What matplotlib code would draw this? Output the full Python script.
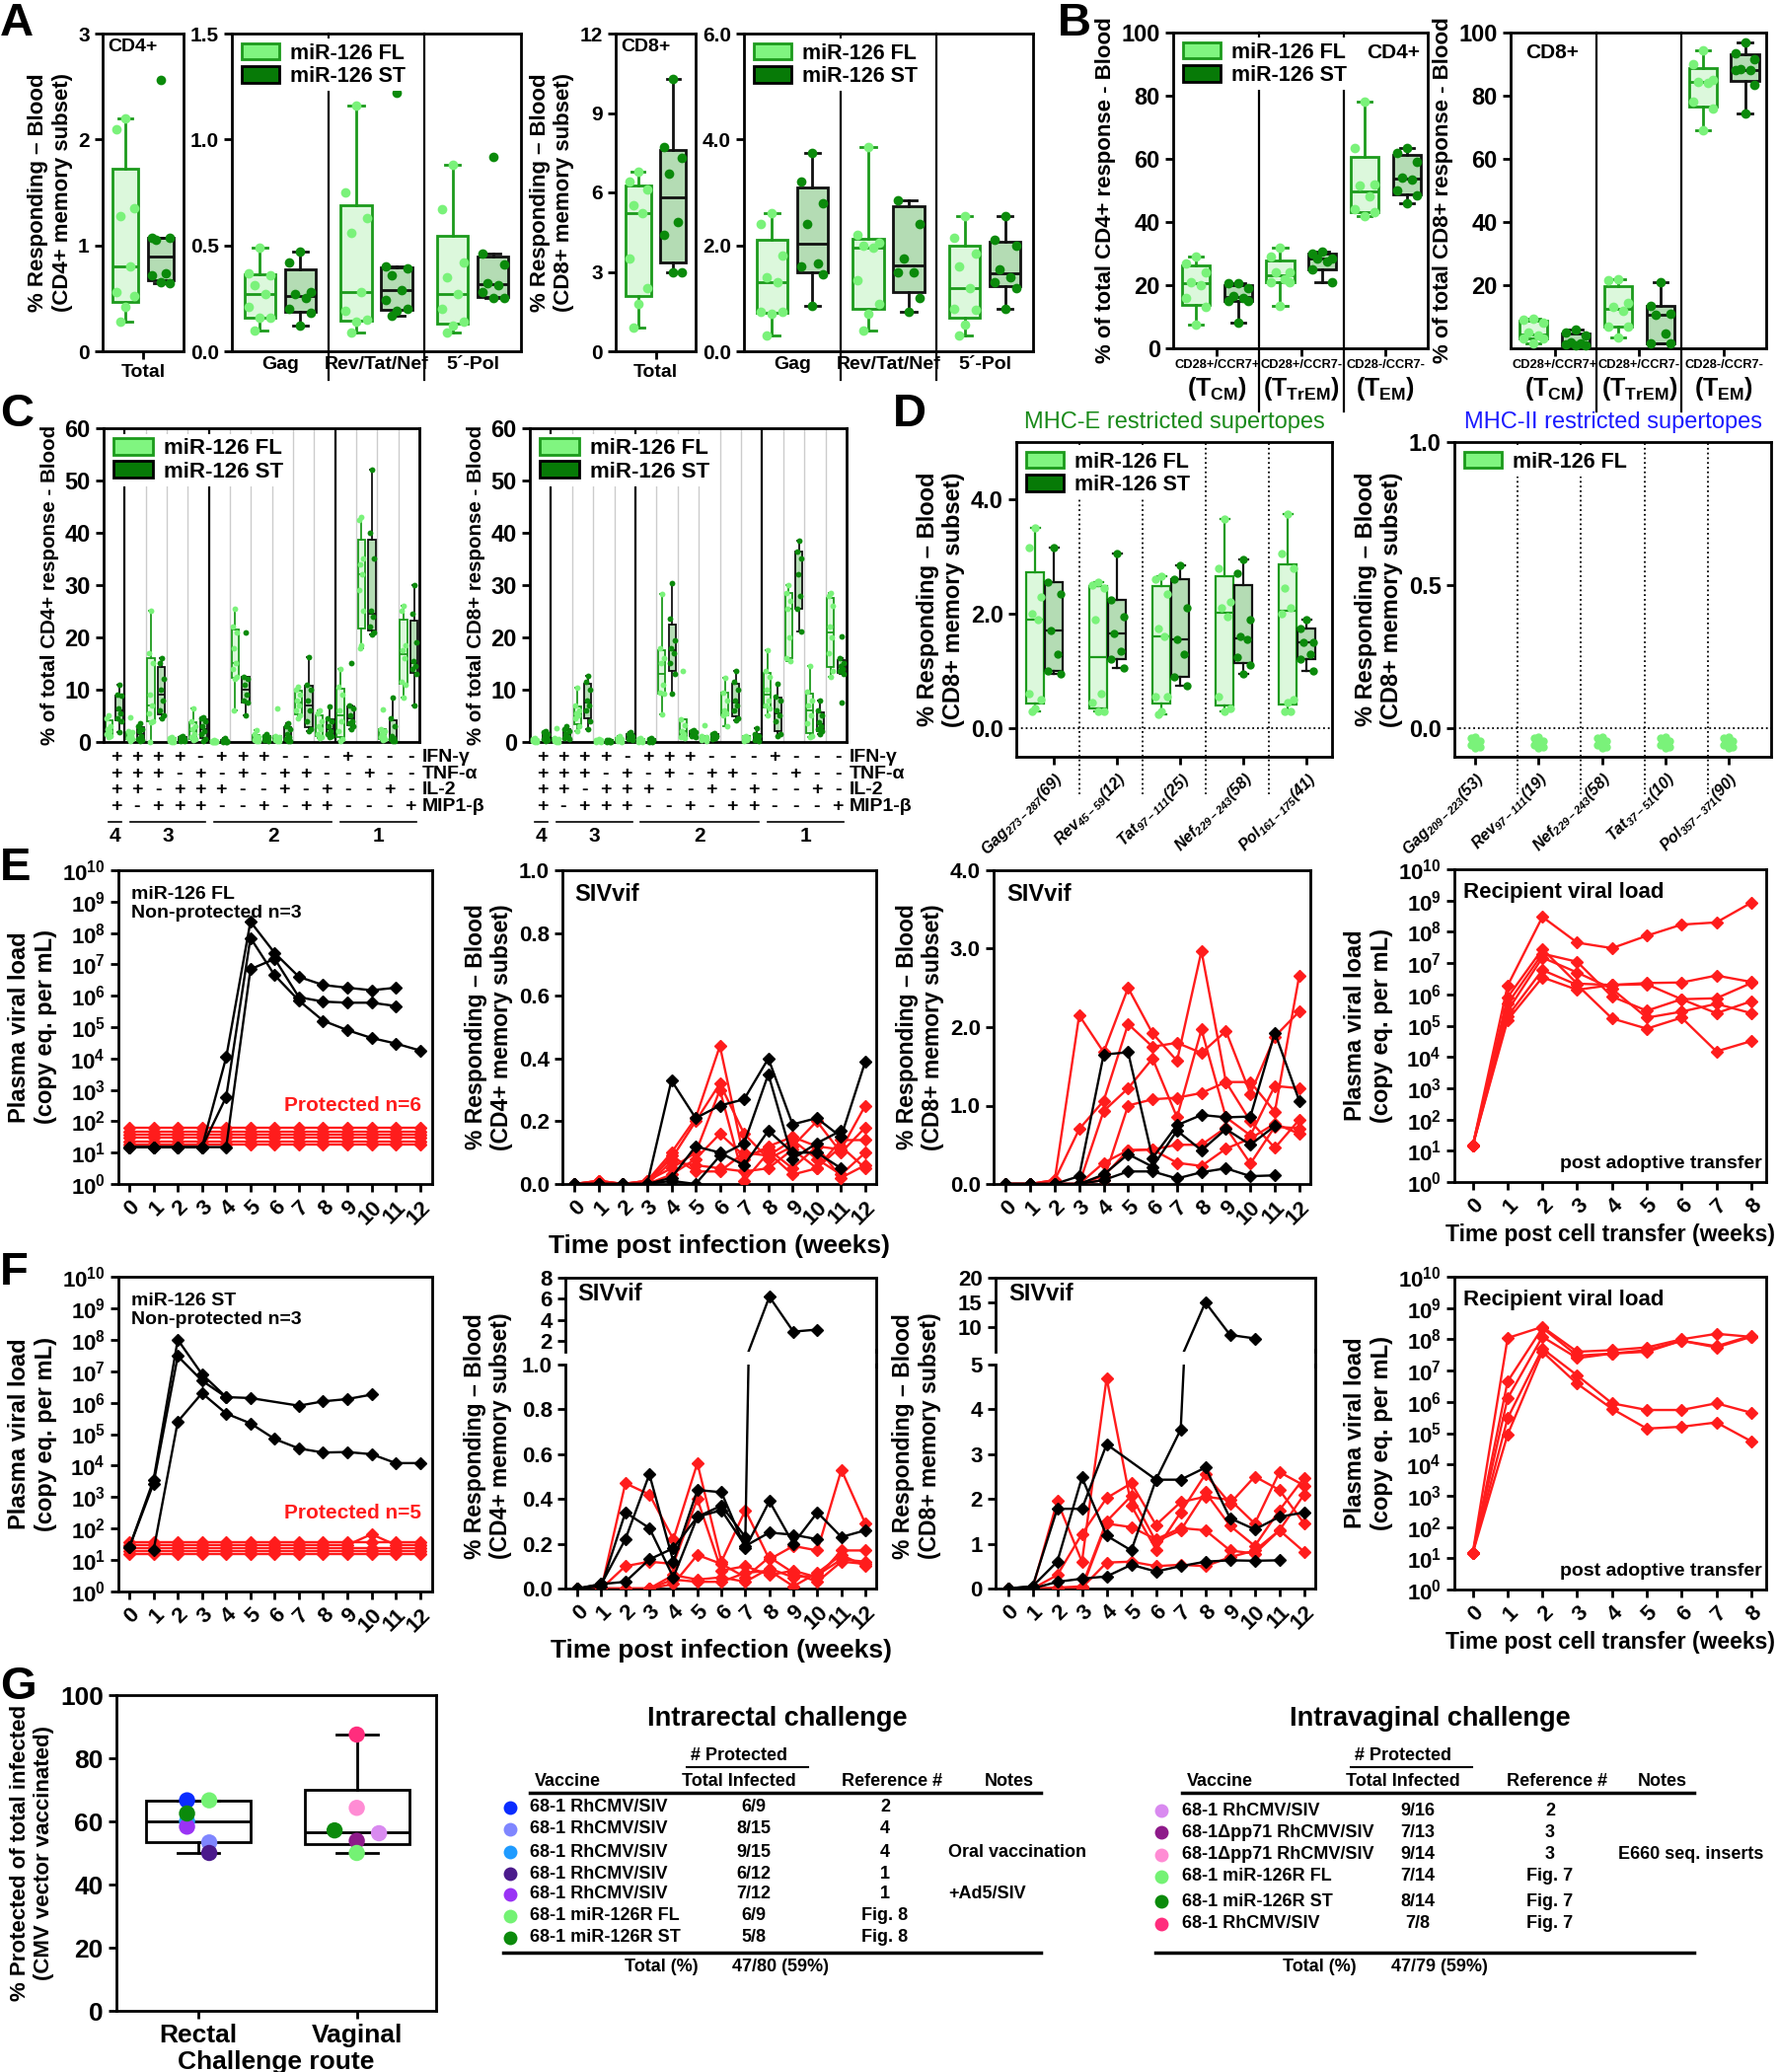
import numpy as np
import matplotlib
matplotlib.use('Agg')
import matplotlib.pyplot as plt
from matplotlib.lines import Line2D
from matplotlib.patches import Patch
from matplotlib.ticker import NullLocator

plt.rcParams['font.family'] = ['Liberation Sans', 'DejaVu Sans']
plt.rcParams['font.weight'] = 'bold'
plt.rcParams['axes.labelweight'] = 'bold'
plt.rcParams['mathtext.fontset'] = 'custom'
plt.rcParams['mathtext.rm'] = 'Liberation Sans:bold'
plt.rcParams['mathtext.bf'] = 'Liberation Sans:bold'
plt.rcParams['mathtext.it'] = 'Liberation Sans:bold:italic'
nan = np.nan

# ---------------- data: panel A ----------------
A_groups = ['Gag', 'Rev/Tat/Nef', '5´-Pol']
A4_tot_fl = [2.2, 2.1, 1.35, 1.28, 0.8, 0.56, 0.52, 0.42, 0.28]
A4_tot_st = [2.56, 1.07, 1.07, 1.05, 0.74, 0.72, 0.64, 0.65]
A4_fl = [[0.49, 0.37, 0.36, 0.31, 0.27, 0.21, 0.16, 0.16, 0.10],
         [1.16, 0.75, 0.63, 0.56, 0.28, 0.19, 0.15, 0.14, 0.09],
         [0.88, 0.67, 0.42, 0.35, 0.27, 0.20, 0.14, 0.12, 0.09]]
A4_st = [[0.47, 0.42, 0.28, 0.27, 0.25, 0.20, 0.18, 0.12],
         [1.22, 0.40, 0.39, 0.36, 0.29, 0.24, 0.20, 0.19, 0.17],
         [0.92, 0.46, 0.41, 0.32, 0.31, 0.28, 0.25, 0.25]]
A8_tot_fl = [6.8, 6.4, 6.1, 5.5, 5.2, 3.5, 2.4, 1.8, 0.9]
A8_tot_st = [10.3, 7.7, 7.3, 6.7, 4.9, 4.4, 3.0, 3.0]
A8_fl = [[2.6, 2.4, 1.8, 1.4, 1.3, 0.75, 0.75, 0.7, 0.3],
         [3.85, 2.2, 2.05, 2.0, 1.95, 1.35, 0.9, 0.7, 0.4],
         [2.55, 2.15, 1.85, 1.6, 1.2, 0.8, 0.78, 0.5, 0.3]]
A8_st = [[3.75, 3.2, 2.8, 2.4, 1.65, 1.6, 1.45, 0.85],
         [5.2, 2.85, 2.4, 1.75, 1.5, 1.5, 1.0, 0.75],
         [2.55, 2.1, 2.0, 1.55, 1.4, 1.3, 1.2, 0.8]]

# ---------------- data: panel B ----------------
B_top = ['CD28+/CCR7+', 'CD28+/CCR7-', 'CD28-/CCR7-']
B_sub = ['CM', 'TrEM', 'EM']
B4_fl = [[29, 27, 24, 21, 20, 16, 13, 7.5],
         [32, 29, 24, 24, 22, 21, 21, 13.5],
         [78, 63.5, 52, 51.5, 48, 44, 43, 42]]
B4_st = [[20.5, 20.5, 19, 16.5, 16, 15, 15, 8],
         [30.5, 30, 28.5, 28.5, 27.5, 25, 21],
         [63.5, 62, 59, 54, 53.5, 50, 48.5, 46]]
B8_fl = [[9.5, 9.0, 8.0, 5, 4, 3, 3, 1.5],
         [22, 21.5, 14.5, 13, 12, 7, 7, 3.5],
         [94.5, 90, 85, 84.5, 84, 78, 76, 69]]
B8_st = [[5.8, 5, 4, 2, 1.5, 1.2, 1, 0.8],
         [21, 13.5, 11, 10.5, 4.8, 1.5, 1.5],
         [97, 93.5, 91.5, 88.5, 88, 88, 83.5, 74.5]]

# ---------------- data: panel C ----------------
C_ifn = list('++++-+++---+---')
C_tnf = list('+++-+-+-++--+--')
C_il2 = list('++-+++--+-+--+-')
C_mip = list('+-+++--+-++---+')
C_row_names = ['IFN-γ', 'TNF-α', 'IL-2', 'MIP1-β']
C_groups = [('4', 1, 1), ('3', 2, 5), ('2', 6, 11), ('1', 12, 15)]
C4_fl = [[5, 4.5, 3, 2.5, 2, 1.5, 1.2, 1], [4.7, 2, 1.8, 1.5, 1.2, 0.8, 0.5, 0.2],
         [25, 17, 15, 9, 7, 5.5, 4, 3.8, 0], [1, 0.8, 0.5, 0.3, 0.2, 0.1, 0, 0],
         [6.5, 4, 3, 2.5, 1.5, 1, 0.5, 0.3], [0.3, 0.2, 0.1, 0, 0, 0, 0, 0],
         [25.5, 22, 21, 18, 15, 14, 12.5, 12, 6], [2.2, 1.5, 1, 0.8, 0.5, 0.3, 0.2, 0.1],
         [6.5, 1.2, 1, 0.8, 0.5, 0.4, 0.2, 0.1], [10.5, 10, 9, 8, 7, 6, 5, 4.5],
         [6, 5.5, 4, 3, 2.5, 1.5, 1, 0.8], [14, 10.5, 9, 6, 4, 2, 0.5, 0.2],
         [43, 42.5, 35, 34, 32, 29, 25, 18.5, 18], [6.3, 2.5, 2, 1.5, 1.2, 1, 0.5, 0.3],
         [26, 25, 18.5, 17.5, 16, 11.5, 11, 8.5]]
C4_st = [[11, 9, 8.8, 6.5, 5.5, 4.5, 4, 1.8], [3.5, 3, 2.5, 2, 1.2, 0.5, 0.3, 0.2],
         [16, 15, 12, 10, 8, 6, 5, 4.5], [1.2, 0.9, 0.6, 0.4, 0.3, 0.2, 0.1],
         [4.8, 4.5, 4, 3, 2, 1.5, 0.5, 0.2], [0.8, 0.4, 0.2, 0.1, 0, 0, 0],
         [21, 12.5, 12, 11, 9, 8, 7.5, 5], [1.5, 1.2, 1, 0.8, 0.5, 0.3, 0.1],
         [3.5, 3, 2.5, 1.5, 1, 0.5, 0.2, 0.1], [16.3, 11, 10, 8, 6, 4, 2.5, 2],
         [6.7, 4.5, 4, 3, 2, 1.5, 1.2, 1], [15, 7, 6.5, 5, 4, 3.5, 3, 2.5],
         [52, 40, 35, 25, 24, 22, 21, 20.5], [8.5, 4.5, 3, 1.2, 0.8, 0.5, 0.2, 0.1],
         [30, 24.5, 19, 15.5, 14.5, 14, 13, 7]]
C8_fl = [[0.8, 0.5, 0.3, 0.2, 0.1, 0.1, 0, 0], [2.7, 0.8, 0.5, 0.3, 0.2, 0.1, 0, 0],
         [10.3, 7, 6, 5.5, 5, 4.5, 3, 2], [0.6, 0.4, 0.3, 0.2, 0.1, 0, 0],
         [1.1, 0.8, 0.5, 0.3, 0.2, 0.1, 0], [0.8, 0.5, 0.3, 0.2, 0.1, 0, 0],
         [28.3, 18, 16, 15, 11, 9.5, 9.2, 5.3], [13.5, 4.3, 3.3, 2, 1.5, 1, 0.8],
         [3.2, 1.2, 1, 0.8, 0.5, 0.3, 0.2], [12.3, 9.5, 8, 6, 5.5, 5, 3],
         [1.2, 1, 0.8, 0.5, 0.3, 0.2], [17.5, 13.5, 12.5, 10, 8, 7, 6.5, 5],
         [30, 28.5, 27, 25.5, 20, 16, 15.5], [14.5, 9.7, 8, 7, 5, 3.5, 1.2, 1],
         [28.5, 28, 26, 22, 20, 17, 13.5, 12.5]]
C8_st = [[2.1, 1.8, 1.5, 1.2, 0.8, 0.5, 0.3, 0.2], [3, 2.5, 2, 1.5, 1, 0.8, 0.5],
         [12.7, 11.5, 10, 8, 7, 6, 4, 2.5], [0.4, 0.3, 0.2, 0.1, 0, 0, 0],
         [1.8, 1.5, 1.2, 1, 0.8, 0.5, 0.3], [0.7, 0.5, 0.3, 0.1, 0, 0],
         [30.3, 23.5, 19.5, 18, 17, 15, 13, 9.2], [2.3, 2, 1.8, 1.5, 1.3, 1.2, 1],
         [1.7, 1.5, 1.2, 1, 0.8, 0.5], [13.6, 11.5, 10, 8, 7, 6, 4.5, 4.2],
         [2.7, 1.5, 1.2, 1, 0.8, 0.3, 0.2], [11.2, 8.7, 8, 6, 5, 4, 1.5, 1.2],
         [38.5, 36.5, 35, 32, 28, 25.5, 21.2], [7.9, 6, 5, 3.8, 3, 2.5, 2, 1.5],
         [20.2, 16, 15, 14.5, 14, 13.5, 13, 7.6]]

# ---------------- data: panel D ----------------
DE_labels = [r'Gag$_{\mathregular{273-287}}$(69)', r'Rev$_{\mathregular{45-59}}$(12)',
             r'Tat$_{\mathregular{97-111}}$(25)', r'Nef$_{\mathregular{229-243}}$(58)',
             r'Pol$_{\mathregular{161-175}}$(41)']
DE_fl = [[3.5, 3.15, 2.3, 2.0, 1.9, 0.6, 0.5, 0.35, 0.3],
         [2.55, 2.5, 2.45, 1.9, 0.6, 0.45, 0.3, 0.3],
         [2.65, 2.6, 2.35, 1.75, 1.6, 0.55, 0.55, 0.3, 0.25],
         [3.65, 2.8, 2.2, 2.1, 1.95, 0.55, 0.35, 0.3],
         [3.75, 3.05, 2.8, 2.45, 2.1, 2.0, 0.5, 0.45, 0.3, 0.3]]
DE_st = [[3.15, 2.55, 2.35, 1.7, 1.3, 1.0, 0.95],
         [3.05, 2.25, 1.95, 1.65, 1.35, 1.2, 1.05],
         [2.85, 2.6, 2.1, 1.55, 1.3, 0.9, 0.75],
         [2.95, 2.7, 1.9, 1.6, 1.55, 1.25, 1.1, 0.95],
         [1.9, 1.75, 1.5, 1.5, 1.3, 1.2, 1.0]]
D2_labels = [r'Gag$_{\mathregular{209-223}}$(53)', r'Rev$_{\mathregular{97-111}}$(19)',
             r'Nef$_{\mathregular{229-243}}$(58)', r'Tat$_{\mathregular{37-51}}$(10)',
             r'Pol$_{\mathregular{357-371}}$(90)']
D2_fl = [[-0.03, -0.035, -0.045, -0.05, -0.055, -0.06, -0.065, -0.07, -0.04]] * 5

# ---------------- data: panels E / F ----------------
weeks = np.arange(13)
wk8 = np.arange(9)
E_vl_np = [[15, 15, 15, 15, 1.1e4, 2.3e8, 2.3e7, 4e6, 2.2e6, 1.8e6, 1.5e6, 1.8e6, nan],
           [15, 15, 15, 15, 6e2, 7e7, 4.5e6, 7e5, 1.6e5, 8e4, 4.5e4, 3e4, 1.8e4],
           [15, 15, 15, 15, 15, 7e6, 1.5e7, 9e5, 6.5e5, 6e5, 6e5, 4.7e5, nan]]
E_vl_p = [[v] * 13 for v in (18, 23, 29, 37, 47, 60)]
E_cd4_np = [[0, 0, 0, 0, 0.33, 0.21, 0.25, 0.27, 0.40, 0.19, 0.21, 0.15, 0.39],
            [0, 0, 0, 0, 0.01, 0.00, 0.09, 0.13, 0.35, 0.08, 0.13, 0.17, nan],
            [0, 0, 0, 0, 0.02, 0.12, 0.10, 0.06, 0.17, 0.10, 0.10, 0.05, nan]]
E_cd4_p = [[0, 0.01, 0, 0.01, 0.10, 0.21, 0.44, 0.08, 0.12, 0.15, 0.12, 0.11, 0.25],
           [0, 0.01, 0, 0.01, 0.08, 0.20, 0.32, 0.16, 0.08, 0.12, 0.20, 0.10, 0.18],
           [0, 0.01, 0, 0.01, 0.05, 0.10, 0.30, 0.01, 0.10, 0.03, 0.05, 0.14, 0.14],
           [0, 0, 0, 0, 0.03, 0.08, 0.16, 0.09, 0.11, 0.05, 0.12, 0.02, 0.06],
           [0, 0, 0, 0, 0.07, 0.06, 0.05, 0.04, 0.05, 0.11, 0.05, 0.12, 0.05],
           [0, 0, 0, 0, 0.09, 0.04, 0.04, 0.10, 0.09, 0.14, 0.08, 0.03, 0.10]]
E_cd8_np = [[0, 0, 0, 0.1, 1.65, 1.68, 0.33, 0.75, 0.88, 0.85, 0.86, 1.93, 1.06],
            [0, 0, 0, 0, 0.12, 0.38, 0.22, 0.68, 0.43, 0.70, 0.50, 0.74, nan],
            [0, 0, 0, 0, 0.05, 0.16, 0.16, 0.07, 0.15, 0.20, 0.10, 0.11, nan]]
E_cd8_p = [[0, 0, 0.05, 2.15, 1.68, 2.50, 1.92, 1.57, 2.97, 1.30, 1.30, 0.92, 2.66],
           [0, 0, 0.05, 0.70, 1.06, 2.04, 1.75, 1.80, 1.67, 1.95, 1.15, 1.88, 2.20],
           [0, 0, 0, 0, 0.93, 1.22, 1.60, 0.85, 1.97, 0.85, 0.62, 1.25, 1.22],
           [0, 0, 0, 0, 0.05, 1.00, 1.08, 1.10, 1.16, 1.30, 0.80, 0.46, 0.82],
           [0, 0, 0, 0, 0.27, 0.43, 0.44, 0.50, 0.50, 0.72, 0.26, 0.73, 0.71],
           [0, 0, 0, 0, 0.10, 0.43, 0.44, 0.27, 0.23, 0.45, 0.58, 0.77, 0.64]]
E_rec = [[15, 1.9e6, 3e8, 4.5e7, 3e7, 7.5e7, 1.7e8, 2e8, 8.5e8],
         [15, 8e5, 2.8e7, 2.2e6, 2e6, 2.3e6, 2.4e6, 4e6, 2.5e6],
         [15, 5e5, 2e7, 1.1e7, 8.5e5, 3e5, 7e5, 7.5e5, 2.3e6],
         [15, 3e5, 1.5e7, 5e6, 1.5e6, 1.8e5, 2.8e5, 5e5, 2.5e5],
         [15, 2e5, 6e6, 2e6, 1.7e5, 8e4, 1.8e5, 1.5e4, 3.2e4],
         [15, 1.5e5, 3.5e6, 1.4e6, 2e6, 2.1e6, 7e5, 2.5e5, 6e5]]
F_vl_np = [[25, 3.5e3, 1e8, 8e6, 1.5e6, 1.4e6, nan, 8e5, 1.1e6, 1.3e6, 1.8e6, nan, nan],
           [25, 2.7e3, 3e7, 5e6, 1.5e6, nan, nan, nan, nan, nan, nan, nan, nan],
           [nan, 20, 2.5e5, 2e6, 4.5e5, 2.2e5, 7e4, 3.5e4, 2.6e4, 2.7e4, 2.3e4, 1.2e4, 1.2e4]]
F_vl_p = [[15] * 13, [19] * 13, [24] * 13,
          [30, 30, 30, 30, 30, 30, 30, 30, 30, 30, 66, 30, 30], [38] * 13]
F_cd4_np = [[0, 0.01, 0.34, 0.27, 0.05, 0.32, 0.37, 0.23, 6.2, 2.9, 3.1, nan, nan],
            [0, 0.02, 0.22, 0.51, 0.12, 0.44, 0.43, 0.18, 0.39, 0.20, 0.34, 0.23, 0.26],
            [0, 0.02, 0.03, 0.13, 0.18, 0.32, 0.35, 0.19, 0.25, 0.24, 0.22, nan, nan]]
F_cd4_p = [[0, 0, 0.47, 0.42, 0.22, 0.56, 0.12, 0.35, 0.13, 0.19, 0.17, 0.53, 0.29],
           [0, 0, 0.10, 0.12, 0.11, 0.40, 0.08, 0.10, 0.06, 0.08, 0.05, 0.17, 0.17],
           [0, 0, 0, 0, 0.02, 0.15, 0.11, 0.05, 0.14, 0.07, 0.03, 0.12, 0.11],
           [0, 0, 0, 0, 0.04, 0.03, 0.03, 0.07, 0.08, 0.01, 0.07, 0.15, 0.10],
           [0, 0, 0, 0, 0.06, 0.04, 0.05, 0.03, 0.09, 0.05, 0.06, 0.13, 0.12]]
F_cd8_np = [[0, 0.05, 0.6, 2.48, 1.18, 0.85, 2.43, 3.55, 15, 8.4, 7.7, nan, nan],
            [0, 0.05, 1.78, 1.78, 3.22, nan, 2.43, 2.43, 2.7, 1.57, 1.32, 1.6, 1.7],
            [0, 0, 0.15, 0.22, 0.27, 0.53, 0.38, 0.5, 0.6, 0.63, 0.62, 0.63, nan]]
F_cd8_p = [[0, 0, 1.95, 0.6, 4.7, 1.85, 0.87, 1.7, 2.55, 1.9, 2.5, 2.2, 1.45],
           [0, 0, 0.3, 1.22, 2.02, 2.35, 1.42, 1.93, 2.05, 1.98, 1.45, 2.6, 2.3],
           [0, 0, 0.02, 0.05, 1.5, 2.07, 1.05, 1.3, 2.15, 1.4, 0.95, 1.75, 2.47],
           [0, 0, 0, 0, 1.45, 1.37, 1.1, 1.35, 1.3, 0.85, 0.78, 1.3, 2.1],
           [0, 0, 0, 0.02, 0.58, 0.6, 0.5, 0.53, 0.5, 0.7, 0.85, 1.3, 0.82]]
F_rec = [[15, 1.1e8, 2.5e8, 4e7, 4.5e7, 5.5e7, 1e8, 1.5e8, 1.2e8],
         [15, 4.5e6, 2.3e8, 3e7, 3.5e7, 4.5e7, 9e7, 6e7, 1.3e8],
         [15, 1.3e6, 1.2e8, 2.5e7, 3.5e7, 4e7, 9e7, 5.5e7, 1.2e8],
         [15, 3e5, 5e7, 7e6, 9e5, 5.5e5, 5.5e5, 9e5, 4.5e5],
         [15, 9e4, 4e7, 3.8e6, 6e5, 1.4e5, 1.6e5, 2.2e5, 5.5e4]]

# ---------------- data: panel G ----------------
ir_vaccine = ['68-1 RhCMV/SIV'] * 5 + ['68-1 miR-126R FL', '68-1 miR-126R ST']
ir_prot = [6, 8, 9, 6, 7, 6, 5]
ir_inf = [9, 15, 15, 12, 12, 9, 8]
ir_ref = ['2', '4', '4', '1', '1', 'Fig. 8', 'Fig. 8']
ir_notes = ['', '', 'Oral vaccination', '', '+Ad5/SIV', '', '']
ir_colors = ['#0a2cff', '#7f86ff', '#1f9bff', '#4b1a8c', '#9a33f5', '#74f274', '#0b8a0b']
iv_vaccine = ['68-1 RhCMV/SIV', '68-1Δpp71 RhCMV/SIV', '68-1Δpp71 RhCMV/SIV',
              '68-1 miR-126R FL', '68-1 miR-126R ST', '68-1 RhCMV/SIV']
iv_prot = [9, 7, 9, 7, 8, 7]
iv_inf = [16, 13, 14, 14, 14, 8]
iv_ref = ['2', '3', '3', 'Fig. 7', 'Fig. 7', 'Fig. 7']
iv_notes = ['', '', 'E660 seq. inserts', '', '', '']
iv_colors = ['#d98af0', '#8e1a8a', '#ff8cd4', '#74f274', '#0b8a0b', '#ff2d7d']

# ---------------- styles ----------------
FL_PT, FL_FACE, FL_EDGE, FL_LEG = '#7af27a', '#dcf8dc', '#1c9a1c', '#80f580'
ST_PT, ST_FACE, ST_EDGE, ST_LEG = '#0b8a0b', '#b4dcb4', '#111111', '#077a07'
RED = '#ff1c1c'
STY = {'FL': (FL_FACE, FL_EDGE, FL_PT), 'ST': (ST_FACE, ST_EDGE, ST_PT)}
OFFS = np.array([0, -1, 1, -0.5, 0.5, -1, 1, 0, -0.5, 0.5, 0])

W, H = 1802, 2100
fig = plt.figure(figsize=(W / 100, H / 100), dpi=100)


def add_ax(x0, x1, y0, y1):
    return fig.add_axes([x0 / W, 1 - y1 / H, (x1 - x0) / W, (y1 - y0) / H])


def frame(ax, size=13, lw=2.0):
    for s in ax.spines.values():
        s.set_linewidth(lw)
    ax.tick_params(width=lw, length=6, labelsize=size)


def stats(vals):
    v = np.asarray(vals, float)
    q1, med, q3 = np.percentile(v, [25, 50, 75], method='weibull')
    iqr = q3 - q1
    return dict(med=med, q1=q1, q3=q3, whislo=v[v >= q1 - 1.5 * iqr].min(),
                whishi=v[v <= q3 + 1.5 * iqr].max(), fliers=[])


def boxpts(ax, vals, pos, width, kind, lw=2.0, ms=7, spread=0.35):
    face, edge, pt = STY[kind]
    ax.bxp([stats(vals)], positions=[pos], widths=width, patch_artist=True,
           showfliers=False, manage_ticks=False, capwidths=width * 0.5,
           boxprops=dict(facecolor=face, edgecolor=edge, linewidth=lw),
           medianprops=dict(color=edge, linewidth=lw),
           whiskerprops=dict(color=edge, linewidth=lw),
           capprops=dict(color=edge, linewidth=lw), zorder=2)
    ax.plot(pos + OFFS[:len(vals)] * width * spread, vals, 'o', ms=ms, color=pt,
            mec='none', zorder=3, clip_on=False)


def legend(ax, labels, size=15):
    hs = [Patch(facecolor=FL_LEG, edgecolor=FL_EDGE, lw=2),
          Patch(facecolor=ST_LEG, edgecolor='black', lw=2)][:len(labels)]
    lg = ax.legend(hs, labels, loc='upper left', fontsize=size, frameon=True,
                   facecolor='white', edgecolor='none', framealpha=1, fancybox=False,
                   borderpad=0.2, labelspacing=0.1, handlelength=1.8, handleheight=0.8,
                   handletextpad=0.5, borderaxespad=0.25)
    lg.set_zorder(6)


def seps(ax, xs, y0, y1=1.0, color='black', lw=1.6, ls='-'):
    for x in xs:
        ax.plot([x, x], [y0, y1], transform=ax.get_xaxis_transform(), color=color,
                lw=lw, ls=ls, clip_on=False, zorder=1)


def series(ax, rows, color, x, ms=6.5, lo=None):
    for r in rows:
        r = np.asarray(r, float)
        m = ~np.isnan(r)
        every = None if lo is None else list(r[m] >= lo)
        ax.plot(x[m], r[m], '-D', color=color, ms=ms, lw=1.7, mec=color,
                markevery=every, zorder=3)


def logy(ax):
    ax.set_yscale('log')
    ax.set_ylim(1, 1e10)
    ax.set_yticks([10.0 ** k for k in range(11)])
    ax.set_yticklabels([r'$\mathbf{10^{%d}}$' % k for k in range(11)])
    ax.yaxis.set_minor_locator(NullLocator())


def week_ticks(ax, x):
    ax.set_xticks(x)
    ax.set_xticklabels([str(v) for v in x], rotation=45, ha='right',
                       rotation_mode='anchor')


# overlay for free text
ov = fig.add_axes([0, 0, 1, 1])
ov.set_xlim(0, W)
ov.set_ylim(H, 0)
ov.axis('off')
for lab, x, y in [('A', 0, 2), ('B', 1072, 2), ('C', 0, 398), ('D', 905, 398),
                  ('E', 0, 858), ('F', 0, 1268), ('G', 0, 1688)]:
    ov.text(x, y, lab, fontsize=34, va='top', ha='left')

# ================= panel A =================
for tot_fl, tot_st, grp_fl, grp_st, pos_t, pos_g, yl, yt, gt, ylab, tag in [
        (A4_tot_fl, A4_tot_st, A4_fl, A4_st, (104, 186), (235, 528), 3, [0, 1, 2, 3],
         [0, 0.5, 1.0, 1.5], '% Responding – Blood\n(CD4+ memory subset)', 'CD4+'),
        (A8_tot_fl, A8_tot_st, A8_fl, A8_st, (624, 705), (754, 1047), 12,
         [0, 3, 6, 9, 12], [0, 2, 4, 6], '% Responding – Blood\n(CD8+ memory subset)',
         'CD8+')]:
    ax = add_ax(pos_t[0], pos_t[1], 34, 356)
    boxpts(ax, tot_fl, -0.22, 0.32, 'FL')
    boxpts(ax, tot_st, 0.22, 0.32, 'ST')
    ax.set_xlim(-0.5, 0.5)
    ax.set_ylim(0, yl)
    ax.set_yticks(yt)
    ax.set_xticks([0])
    ax.set_xticklabels(['Total'])
    ax.set_ylabel(ylab, fontsize=16)
    ax.text(0.06, 0.985, tag, transform=ax.transAxes, va='top', fontsize=14)
    frame(ax, size=15)
    ax.tick_params(axis='x', labelsize=14)

    ax = add_ax(pos_g[0], pos_g[1], 34, 356)
    for g in range(3):
        boxpts(ax, grp_fl[g], g - 0.21, 0.32, 'FL')
        boxpts(ax, grp_st[g], g + 0.21, 0.32, 'ST')
    ax.set_xlim(-0.5, 2.5)
    ax.set_ylim(0, yl / 2)
    ax.set_yticks(gt)
    ax.yaxis.set_major_formatter('{x:.1f}')
    ax.set_xticks(range(3))
    ax.set_xticklabels(A_groups)
    seps(ax, [0.5, 1.5], -0.09)
    legend(ax, ['miR-126 FL', 'miR-126 ST'], size=15.5)
    frame(ax, size=15)
    ax.tick_params(axis='x', length=0, labelsize=14)

# ================= panel B =================
for dfl, dst, pos, yt, ylab, tag, tx in [
        (B4_fl, B4_st, (1189, 1447), [0, 20, 40, 60, 80, 100],
         '% of total CD4+ response - Blood', 'CD4+', 0.97),
        (B8_fl, B8_st, (1531, 1790), [20, 40, 60, 80, 100],
         '% of total CD8+ response - Blood', 'CD8+', 0.06)]:
    ax = add_ax(pos[0], pos[1], 33, 353)
    for g in range(3):
        boxpts(ax, dfl[g], g - 0.25, 0.33, 'FL')
        boxpts(ax, dst[g], g + 0.25, 0.33, 'ST')
        ax.text(g, -0.035, B_top[g], transform=ax.get_xaxis_transform(), ha='center',
                va='top', fontsize=9.3)
        ax.text(g, -0.085, r'(T$_{\mathregular{%s}}$)' % B_sub[g],
                transform=ax.get_xaxis_transform(), ha='center', va='top', fontsize=18)
    ax.set_xlim(-0.52, 2.5)
    ax.set_ylim(0, 100)
    ax.set_yticks(yt)
    ax.set_xticks(range(3))
    ax.set_xticklabels([])
    ax.set_ylabel(ylab, fontsize=16)
    seps(ax, [0.5, 1.5], -0.2)
    ax.text(tx, 0.965, tag, transform=ax.transAxes, va='top',
            ha='right' if tx > 0.5 else 'left', fontsize=15,
            bbox=dict(facecolor='white', edgecolor='none', pad=2), zorder=6)
    if tag == 'CD4+':
        legend(ax, ['miR-126 FL', 'miR-126 ST'], size=15.5)
    frame(ax, size=17)

# ================= panel C =================
C_rows = [C_ifn, C_tnf, C_il2, C_mip]
for dfl, dst, pos, ylab in [
        (C4_fl, C4_st, (105, 425), '% of total CD4+ response - Blood'),
        (C8_fl, C8_st, (537, 858), '% of total CD8+ response - Blood')]:
    ax = add_ax(pos[0], pos[1], 434, 752)
    cats = np.arange(1, 16)
    for i in cats:
        boxpts(ax, dfl[i - 1], i - 0.25, 0.33, 'FL', lw=1.3, ms=4.2, spread=0.3)
        boxpts(ax, dst[i - 1], i + 0.25, 0.33, 'ST', lw=1.3, ms=4.2, spread=0.3)
    ax.set_xlim(0.5, 15.5)
    ax.set_ylim(0, 60)
    ax.set_yticks(range(0, 61, 10))
    ax.set_xticks([])
    ax.set_ylabel(ylab, fontsize=14.8)
    for b in np.arange(1.5, 15, 1.0):
        black = b in (1.5, 5.5, 11.5)
        ax.plot([b, b], [0, 1], transform=ax.get_xaxis_transform(),
                color='black' if black else '#cccccc', lw=1.6 if black else 1.0, zorder=1)
    legend(ax, ['miR-126 FL', 'miR-126 ST'], size=16)
    tr = ax.get_xaxis_transform()
    for r, (row, name) in enumerate(zip(C_rows, C_row_names)):
        yy = -0.05 - r * 0.052
        for i, s in zip(cats, row):
            ax.text(i + 0.08, yy, s, transform=tr, ha='center', va='center', fontsize=14)
        ax.text(1.01, yy, name, transform=ax.transAxes, ha='left', va='center', fontsize=14)
    for lab, a, b in C_groups:
        ax.plot([a - 0.25, b + 0.35], [-0.255, -0.255], transform=tr, color='black',
                lw=1.2, clip_on=False)
        ax.text((a + b) / 2 + 0.05, -0.27, lab, transform=tr, ha='center', va='top',
                fontsize=15)
    frame(ax, size=17)

# ================= panel D =================
ax = add_ax(1030, 1350, 448, 767)
for g in range(5):
    boxpts(ax, DE_fl[g], g + 0.3, 0.28, 'FL', lw=1.6, ms=6, spread=0.35)
    boxpts(ax, DE_st[g], g + 0.6, 0.28, 'ST', lw=1.6, ms=6, spread=0.35)
ax.set_xlim(0, 5)
ax.set_ylim(-0.5, 5.0)
ax.set_yticks([0, 2, 4])
ax.yaxis.set_major_formatter('{x:.1f}')
ax.set_xticks(np.arange(5) + 0.6)
ax.set_xticklabels(DE_labels, rotation=45, ha='right', rotation_mode='anchor',
                   fontstyle='italic')
ax.axhline(0, color='black', ls=':', lw=1.3, zorder=1)
seps(ax, [1, 2, 3, 4], -0.12, ls=':', lw=1.3)
ax.set_ylabel('% Responding – Blood\n(CD8+ memory subset)', fontsize=17)
legend(ax, ['miR-126 FL', 'miR-126 ST'], size=15.5)
frame(ax, size=17)
ax.tick_params(axis='x', labelsize=11.5)
ax.set_title('MHC-E restricted supertopes', fontsize=17, color='#1a8a1a', pad=10)

ax = add_ax(1474, 1795, 448, 767)
for g in range(5):
    v = np.asarray(D2_fl[g])
    ax.plot(g + 0.33 + OFFS[:len(v)] * 0.07, v, 'o', ms=6, color=FL_PT, mec='none',
            zorder=3)
ax.set_xlim(0, 5)
ax.set_ylim(-0.1, 1.0)
ax.set_yticks([0, 0.5, 1.0])
ax.yaxis.set_major_formatter('{x:.1f}')
ax.set_xticks(np.arange(5) + 0.33)
ax.set_xticklabels(D2_labels, rotation=45, ha='right', rotation_mode='anchor',
                   fontstyle='italic')
ax.axhline(0, color='black', ls=':', lw=1.3, zorder=1)
seps(ax, [1, 2, 3, 4], -0.12, ls=':', lw=1.3)
ax.set_ylabel('% Responding – Blood\n(CD8+ memory subset)', fontsize=17)
legend(ax, ['miR-126 FL'], size=15.5)
frame(ax, size=17)
ax.tick_params(axis='x', labelsize=11.5)
ax.set_title('MHC-II restricted supertopes', fontsize=17, color='#1a1aff', pad=10)

# ================= panels E and F =================
VL_LAB = 'Plasma viral load\n(copy eq. per mL)'


def vl_panel(y0, y1, np_rows, p_rows, name, ptxt):
    ax = add_ax(120, 438, y0, y1)
    series(ax, p_rows, RED, weeks)
    series(ax, np_rows, 'black', weeks)
    logy(ax)
    ax.set_xlim(-0.45, 12.5)
    week_ticks(ax, weeks)
    ax.set_ylabel(VL_LAB, fontsize=17)
    ax.text(0.04, 0.95, name + '\nNon-protected n=3', transform=ax.transAxes, va='top',
            fontsize=14, linespacing=1.15)
    ax.text(0.965, 0.25, ptxt, transform=ax.transAxes, ha='right', va='center',
            fontsize=15, color=RED)
    frame(ax, size=16)


def rec_panel(y0, y1, rows):
    ax = add_ax(1474, 1790, y0, y1)
    series(ax, rows, RED, wk8)
    logy(ax)
    ax.set_xlim(-0.53, 8.43)
    week_ticks(ax, wk8)
    ax.set_ylabel(VL_LAB, fontsize=17)
    ax.set_xlabel('Time post cell transfer (weeks)', fontsize=16.5)
    ax.text(0.03, 0.96, 'Recipient viral load', transform=ax.transAxes, va='top',
            fontsize=16)
    ax.text(0.985, 0.03, 'post adoptive transfer', transform=ax.transAxes, ha='right',
            va='bottom', fontsize=14)
    frame(ax, size=16)


def resp_panel(x0, x1, y0, y1, np_rows, p_rows, ymax, yt, ylab, xlab):
    ax = add_ax(x0, x1, y0, y1)
    series(ax, p_rows, RED, weeks)
    series(ax, np_rows, 'black', weeks)
    ax.set_xlim(-0.5, 12.45)
    ax.set_ylim(0, ymax)
    ax.set_yticks(yt)
    ax.yaxis.set_major_formatter('{x:.1f}')
    week_ticks(ax, weeks)
    ax.set_ylabel(ylab, fontsize=16.5)
    if xlab:
        ax.set_xlabel('Time post infection (weeks)', fontsize=19)
    ax.text(0.04, 0.96, 'SIVvif', transform=ax.transAxes, va='top', fontsize=17)
    frame(ax, size=16)


def broken_panel(x0, x1, np_rows, p_rows, lo, hi, lo_t, hi_t, fmt, ylab, xlab):
    top = add_ax(x0, x1, 1295, 1370)
    bot = add_ax(x0, x1, 1383, 1610)
    series(top, p_rows, RED, weeks, lo=hi[0])
    series(top, np_rows, 'black', weeks, lo=hi[0])
    series(bot, p_rows, RED, weeks)
    series(bot, np_rows, 'black', weeks)
    for a in (top, bot):
        a.set_xlim(-0.5, 12.45)
    top.set_ylim(*hi)
    top.set_yticks(hi_t)
    top.spines['bottom'].set_visible(False)
    top.set_xticks([])
    top.text(0.04, 0.93, 'SIVvif', transform=top.transAxes, va='top', fontsize=17)
    bot.set_ylim(*lo)
    bot.set_yticks(lo_t)
    bot.yaxis.set_major_formatter(fmt)
    bot.spines['top'].set_visible(False)
    week_ticks(bot, weeks)
    bot.set_ylabel(ylab, fontsize=16.5)
    bot.yaxis.set_label_coords(-0.17, 0.68)
    if xlab:
        bot.set_xlabel('Time post infection (weeks)', fontsize=19)
    frame(top, size=16)
    frame(bot, size=16)
    fig.add_artist(Line2D([x1 / W, x1 / W], [1 - 1368 / H, 1 - 1385 / H], color='black',
                          lw=2.0))


vl_panel(882, 1200, E_vl_np, E_vl_p, 'miR-126 FL', 'Protected n=6')
resp_panel(570, 888, 882, 1200, E_cd4_np, E_cd4_p, 1.0, np.arange(0, 1.01, 0.2),
           '% Responding – Blood\n(CD4+ memory subset)', True)
resp_panel(1007, 1328, 882, 1200, E_cd8_np, E_cd8_p, 4.0, [0, 1, 2, 3, 4],
           '% Responding – Blood\n(CD8+ memory subset)', False)
rec_panel(881, 1198, E_rec)

vl_panel(1294, 1613, F_vl_np, F_vl_p, 'miR-126 ST', 'Protected n=5')
broken_panel(573, 888, F_cd4_np, F_cd4_p, (0, 1.0), (1, 8), np.arange(0, 1.01, 0.2),
             [2, 4, 6, 8], '{x:.1f}', '% Responding – Blood\n(CD4+ memory subset)', True)
broken_panel(1009, 1333, F_cd8_np, F_cd8_p, (0, 5), (5, 20), [0, 1, 2, 3, 4, 5],
             [10, 15, 20], '{x:.0f}', '% Responding – Blood\n(CD8+ memory subset)', False)
rec_panel(1294, 1611, F_rec)

# ================= panel G =================
ax = add_ax(118, 442, 1718, 2038)
rect = 100 * np.array(ir_prot) / np.array(ir_inf)
vag = 100 * np.array(iv_prot) / np.array(iv_inf)
for pos, vals, cols, offs in [(0, rect, ir_colors, [-0.07, 0.07, -0.07, 0.07, -0.07, 0.07, -0.07]),
                              (1, vag, iv_colors, [0.14, 0, 0, 0, -0.14, 0])]:
    ax.bxp([stats(vals)], positions=[pos], widths=0.66, patch_artist=True,
           showfliers=False, manage_ticks=False, capwidths=0.26,
           boxprops=dict(facecolor='white', edgecolor='black', linewidth=2),
           medianprops=dict(color='black', linewidth=2),
           whiskerprops=dict(color='black', linewidth=2),
           capprops=dict(color='black', linewidth=2), zorder=2)
    ax.scatter(pos + np.array(offs), vals, s=140, c=cols, zorder=3, linewidths=0)
ax.set_xlim(-0.515, 1.5)
ax.set_ylim(0, 100)
ax.set_yticks(range(0, 101, 20))
ax.set_xticks([0, 1])
ax.set_xticklabels(['Rectal', 'Vaginal'])
ax.set_xlabel('Challenge route', fontsize=19, labelpad=2)
ax.set_ylabel('% Protected of total infected\n(CMV vector vaccinated)', fontsize=16)
frame(ax, size=19)


def table(title, cols_x, line_x, rows_y, vac, prot, inf, ref, notes, colors, total_x):
    dot_x, vac_x, frac_x, ref_x, note_x = cols_x
    tk = dict(fontsize=13)
    ov.text((line_x[0] + line_x[1]) / 2 + 5, 1742, title, ha='center', va='center',
            fontsize=19.5)
    ov.text(frac_x - 15, 1779, '# Protected', ha='center', va='center', **tk)
    ov.plot([frac_x - 68, frac_x + 55], [1791, 1791], color='black', lw=1.5)
    ov.text(vac_x + 5, 1806, 'Vaccine', ha='left', va='center', **tk)
    ov.text(frac_x - 15, 1806, 'Total Infected', ha='center', va='center', **tk)
    ov.text(ref_x + 7, 1806, 'Reference #', ha='center', va='center', **tk)
    ov.text(line_x[1] - 32, 1806, 'Notes', ha='center', va='center', **tk)
    ov.plot([vac_x, line_x[1]], [1817, 1817], color='black', lw=2.5)
    for y, v, p, n, r, nt, c in zip(rows_y, vac, prot, inf, ref, notes, colors):
        ov.plot(dot_x, y, 'o', ms=10, color=c, mec='none')
        ov.text(vac_x, y, v, ha='left', va='center', **tk)
        ov.text(frac_x, y, '%d/%d' % (p, n), ha='center', va='center', **tk)
        ov.text(ref_x, y, r, ha='center', va='center', **tk)
        ov.text(note_x, y, nt, ha='left', va='center', **tk)
    ov.plot(line_x, [1979, 1979], color='black', lw=2.5)
    tp, ti = sum(prot), sum(inf)
    ov.text(total_x[0], 1994, 'Total (%)', ha='center', va='center', **tk)
    ov.text(total_x[1], 1994, '%d/%d (%d%%)' % (tp, ti, int(round(100 * tp / ti))),
            ha='center', va='center', **tk)


table('Intrarectal challenge', (517, 537, 764, 897, 961), (510, 1055),
      [1832, 1854, 1877, 1899, 1920, 1942, 1964],
      ir_vaccine, ir_prot, ir_inf, ir_ref, ir_notes, ir_colors, (670, 791))
table('Intravaginal challenge', (1177, 1198, 1437, 1571, 1640), (1171, 1717),
      [1835, 1857, 1880, 1902, 1927, 1950],
      iv_vaccine, iv_prot, iv_inf, iv_ref, iv_notes, iv_colors, (1337, 1459))

fig.savefig('out.png', dpi=100, facecolor='white')
